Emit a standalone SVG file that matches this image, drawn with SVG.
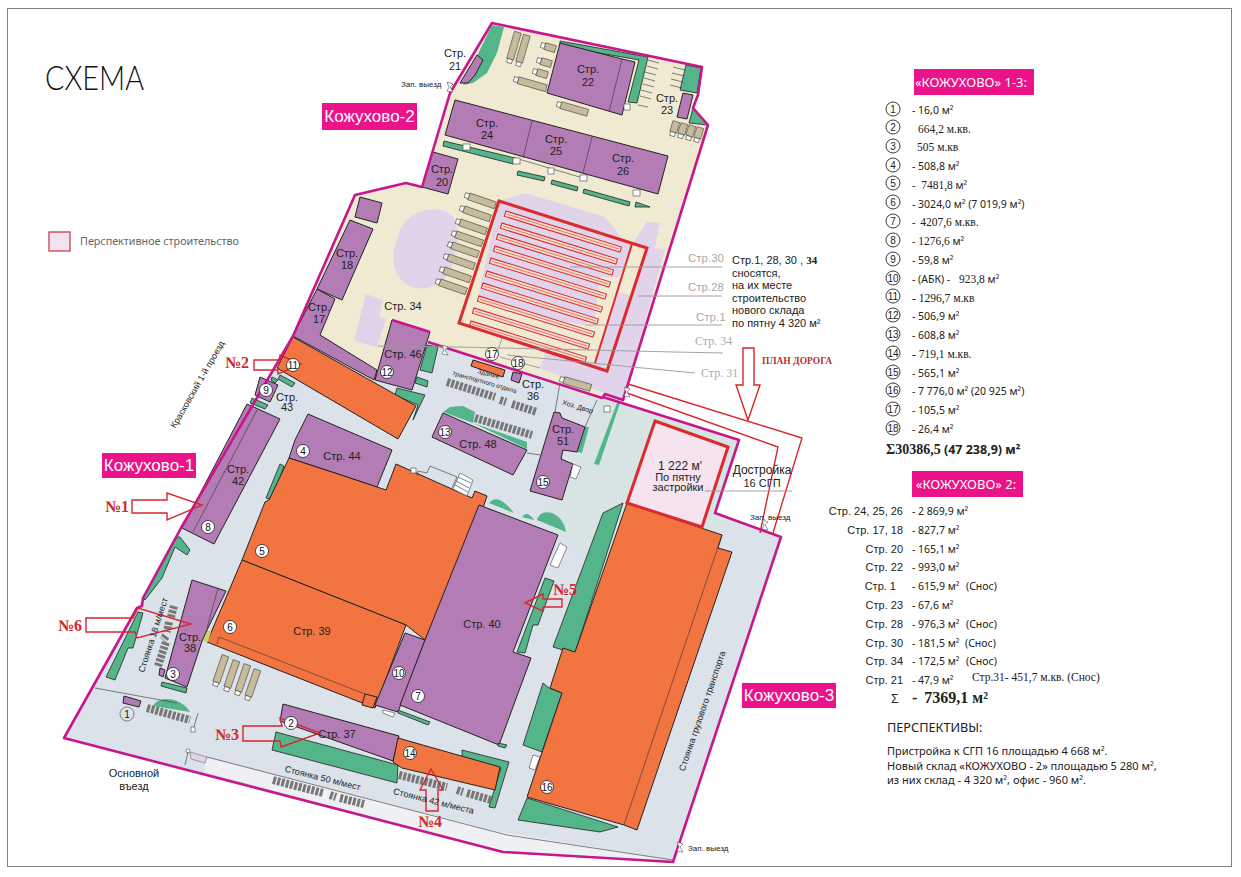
<svg xmlns="http://www.w3.org/2000/svg" width="1241" height="877" viewBox="0 0 1241 877">
<style>
text{font-family:"Liberation Sans",Arial,sans-serif;font-size:11px;fill:#222}
.p{fill:#b47cb5;stroke:#222;stroke-width:1}
.o{fill:#f27440;stroke:#222;stroke-width:1}
.g{fill:#54b58a;stroke:#222;stroke-width:.8}
.gn{fill:#54b58a}
.t{fill:#c8bb9c;stroke:#444;stroke-width:.6}
.w{fill:#fff;stroke:#444;stroke-width:.6}
.no{fill:none;stroke:#333;stroke-width:.6}
.li{fill:#e1d4ea}
.m{fill:none;stroke:#c8168c;stroke-width:2.6;stroke-linejoin:round}
.r{fill:none;stroke:#d9262c;stroke-width:1.4}
.lead{fill:none;stroke:#999;stroke-width:.9}
.pk{fill:none;stroke:#777;stroke-width:8;stroke-dasharray:3 1.4}
.pb{fill:#ec1289}
.pl{fill:#fff;font-size:17px;text-anchor:middle}
.c{text-anchor:middle}
.s{font-size:9px}
.ns{fill:#fff;stroke:#222;stroke-width:.8}
.nt{font-size:10px;text-anchor:middle;fill:#111}
.lc{fill:none;stroke:#222;stroke-width:.9}
.lt{font-size:10px;text-anchor:middle;fill:#222}
.v{font-family:"Noto Sans","Open Sans",sans-serif;font-size:10.5px;fill:#222}
.sf{font-family:"Liberation Serif","Times New Roman",serif;font-size:11.5px;fill:#222}
.gr{fill:#aaa;font-size:11.5px}
.grs{fill:#aaa;font-size:12px;font-family:"Liberation Serif",serif}
.no1{font-family:"Liberation Serif",serif;font-weight:bold;font-size:16px;fill:#cf2a2d}
.bar{fill:#f6dccb;stroke:#d9262c;stroke-width:1}
.para{font-family:"Noto Sans",sans-serif;font-size:11px}
.hd{fill:#fff;font-family:"Noto Sans",sans-serif;font-size:13px;text-anchor:middle}
</style>
<defs>
<g id="tk"><rect x="4" y="-3.5" width="28" height="7" class="t"/><rect x="0" y="-2.5" width="4" height="5" class="w"/></g>
<g id="tks"><rect x="4" y="-3.5" width="11" height="7" class="t"/><rect x="0" y="-2.5" width="4" height="5" class="w"/></g>
<g id="bar"><rect x="0" y="0" width="121" height="5.5" class="bar"/><line x1="2" y1="2.7" x2="119" y2="2.7" stroke="#d9262c" stroke-width=".5"/></g>
<path id="gate" d="M-3-5L3-3L0 0L3 5L-3 4L-1 0Z" fill="#fff" stroke="#555" stroke-width=".6"/>
</defs>
<rect width="1241" height="877" fill="#fff"/>
<rect x="7.5" y="8.5" width="1224" height="858" fill="none" stroke="#808080" stroke-width="1"/>

<g id="zones">
<polygon points="492,23 702,67 698,95 693,108 708,125 623,400 603,395 602,398 428,342 430,332 392,320 375,381 293,336 355,195 406,183 422,187 450,93" fill="#f1ead2"/>
<polygon points="293,336 375,381 428,342 603,397 739,440 715,513 781,537 673,862 503,852 64,738 137,608 143,598 181,528" fill="#dce2ea"/>
<polygon points="604,398 739,440 715,513 728,520 700,540 623,503 590,560 540,520 575,450 596,400" fill="#d8e4e3"/>
<polygon points="205,757 500,832 673,860 503,852 205,772" fill="#eef0f3"/>
</g>

<g id="lilac-areas">
<path class="li" d="M397,240C402,214 425,205 445,211C458,216 462,232 453,262C450,280 432,291 415,288C397,284 388,262 397,240Z"/>
<polygon class="li" points="366,294 383,300 379,317 386,319 377,347 354,341"/>
<polygon class="li" points="499,201 525,193 605,217 622,238 632,244"/>
<polygon class="li" points="632,244 647,222 660,223 655,248 665,249 623,400 602,392 540,368 547,350 595,363"/>
<polygon points="459,323 499,201 632,244 595,363" fill="#f1ead2"/>
<polygon class="li" points="499,201 632,244 620,277 600,277 595,317 583,325 515,313 478,297"/>
<polygon class="li" points="540,368 547,350 590,362 595,363 607,371 602,392"/>
<polygon points="632,244 647,248 632,296 618,292" fill="#f1ead2"/>
</g>

<g id="str-22"><polygon class="g" points="560,41 648,57 637,103 628,102 639,60 560,46"/><polygon class="p" points="560,43 622,59 635,62 622,115 547,93"/><line class="no" x1="622" y1="59" x2="609" y2="112" stroke-width="1"/><text class="c" x="588" y="73">Стр.</text><text class="c" x="588" y="86">22</text></g>
<g id="str-21"><path class="gn" d="M492,25L504,27L497,53L487,73L473,83L463,85Z"/><polygon class="p" points="477,55 483,60 475,75 468,83 460,83" stroke="none"/><text class="c" x="455" y="57">Стр.</text><text class="c" x="455" y="70">21</text></g>
<g id="str-23"><polygon class="g" points="686,65 701,68 697,93 680,90"/><polygon class="g" points="693,108 708,125 689,123"/><polygon class="p" points="683,93 693,95 687,119 677,117"/><text class="c" x="667" y="102">Стр.</text><text class="c" x="667" y="114">23</text></g>
<g id="trucks">
<use href="#tk" transform="translate(509,63) rotate(-74)"/><use href="#tk" transform="translate(518,66) rotate(-74)"/>
<use href="#tks" transform="translate(541,45) rotate(16)"/><use href="#tks" transform="translate(537,60) rotate(16)"/><use href="#tks" transform="translate(533,71) rotate(16)"/>
<use href="#tk" transform="translate(514,79) rotate(16) scale(1.05,1)"/><use href="#tk" transform="translate(557,104) rotate(16)"/>
<use href="#tks" transform="translate(672,136) rotate(-73)"/><use href="#tks" transform="translate(680,138) rotate(-73)"/><use href="#tks" transform="translate(688,140) rotate(-73)"/><use href="#tks" transform="translate(696,142) rotate(-73)"/>
<use href="#tk" transform="translate(465,195) rotate(19)"/><use href="#tk" transform="translate(460,208) rotate(19)"/><use href="#tk" transform="translate(456,221) rotate(19)"/><use href="#tk" transform="translate(452,233) rotate(19)"/><use href="#tk" transform="translate(448,244) rotate(19)"/><use href="#tk" transform="translate(444,256) rotate(19)"/><use href="#tk" transform="translate(440,269) rotate(19)"/><use href="#tk" transform="translate(436,281) rotate(19)"/>
<use href="#tk" transform="translate(560,379) rotate(16)"/>
<use href="#tk" transform="translate(215,686) rotate(-71)"/><use href="#tk" transform="translate(226,691) rotate(-71)"/><use href="#tk" transform="translate(237,695) rotate(-71)"/><use href="#tk" transform="translate(247,700) rotate(-71)"/>
<path class="no" d="M648,60L659,63M647,66L658,69M645,72L656,75M644,78L655,81M643,84L654,87M641,90L652,93M640,96L651,99M638,105L648,107M673,67L685,70M672,73L684,76M671,79L683,82M670,85L682,88"/>
</g>
<g id="str-24-26"><polygon class="g" points="444,141 515,158 513,164 443,146"/><polygon class="p" points="455,100 668,156 658,194 445,135"/><path class="no" d="M532,121L523,158M592,137L583,173M515,158L583,178"/>
<polygon class="g" points="518,171 545,177 544,181 517,175"/><polygon class="g" points="552,180 578,187 577,191 551,184"/><polygon class="g" points="584,189 630,202 629,206 583,193"/><polygon class="g" points="636,202 650,207 635,207"/>
<rect class="w" x="463" y="144" width="7" height="6"/><rect class="w" x="513" y="158" width="7" height="6"/><rect class="w" x="548" y="168" width="6" height="6"/><rect class="w" x="580" y="175" width="7" height="6"/><rect class="w" x="633" y="190" width="7" height="6"/><rect class="w" x="624" y="104" width="6" height="6"/>
<text class="c" x="487" y="127">Стр.</text><text class="c" x="487" y="139">24</text><text class="c" x="556" y="143">Стр.</text><text class="c" x="556" y="155">25</text><text class="c" x="623" y="162">Стр.</text><text class="c" x="623" y="175">26</text></g>
<g id="str-20"><polygon class="p" points="433,152 458,159 448,194 422,187"/><text class="c" x="442" y="173">Стр.</text><text class="c" x="442" y="186">20</text></g>
<g id="str-18"><polygon class="p" points="360,197 382,203 377,223 355,217"/><polygon class="p" points="350,220 373,229 342,300 317,289"/><text class="c" x="347" y="257">Стр.</text><text class="c" x="347" y="269">18</text></g>
<g id="str-17"><polygon class="p" points="317,289 335,299 320,335 377,370 374,380 293,336"/><text class="c" x="319" y="311">Стр.</text><text class="c" x="319" y="323">17</text></g>
<g id="str-34"><text class="c" x="403" y="310">Стр. 34</text></g>

<g id="new-warehouse">
<use href="#bar" transform="translate(506,211) rotate(17.3)"/><use href="#bar" transform="translate(502,223) rotate(17.3)"/><use href="#bar" transform="translate(498,234) rotate(17.3)"/><use href="#bar" transform="translate(495,246) rotate(17.3)"/><use href="#bar" transform="translate(491,258) rotate(17.3)"/><use href="#bar" transform="translate(487,271) rotate(17.3)"/><use href="#bar" transform="translate(483,283) rotate(17.3)"/><use href="#bar" transform="translate(479,296) rotate(17.3)"/><use href="#bar" transform="translate(474,308) rotate(17.3)"/><use href="#bar" transform="translate(471,321) rotate(17.3)"/>
<polygon points="499,201 647,248 607,371 459,323" fill="none" stroke="#dd2a2e" stroke-width="3"/><line x1="632" y1="244" x2="595" y2="363" stroke="#dd2a2e" stroke-width="2"/>
</g>

<g id="str-46"><polygon class="g" points="427,345 438,347 432,373 420,370"/><polygon class="g" points="417,377 428,381 427,387 415,383"/><polygon class="g" points="397,388 425,395 413,420 418,405 395,395"/><polygon class="p" points="392,320 430,332 412,390 375,380"/><text class="c" x="403" y="358">Стр. 46</text></g>
<g id="str-11"><polygon class="o" points="293,337 416,406 398,439 277,368" stroke-width="1.2"/></g>
<g id="str-43"><polygon class="g" points="280,375 295,383 292,387 278,379"/><polygon class="g" points="272,377 278,380 275,383 271,380"/><polygon class="p" points="260,377 278,385 270,402 255,395" stroke-width=".6"/><polygon class="g" points="252,398 268,405 265,409 250,403"/><text class="c" x="287" y="401">Стр.</text><text class="c" x="287" y="411">43</text></g>
<g id="str-42"><polygon class="p" points="247,404 280,419 214,544 182,528"/><line class="no" x1="257" y1="410" x2="193" y2="532"/><text class="c" x="238" y="473">Стр.</text><text class="c" x="238" y="485">42</text></g>
<g id="str-44"><polygon class="g" points="280,464 284,466 272,500 266,498"/><polygon class="p" points="308,414 392,450 377,487 338,474 289,458 295,440"/><text class="c" x="342" y="460">Стр. 44</text></g>
<g id="str-5"><polygon class="o" points="289,458 338,474 386,490 396,464 472,498 475,491 487,496 484,505 425,640 406,625 242,560 265,502 269,500"/>
<rect class="w" x="411" y="468" width="5" height="5"/><polyline class="no" points="417,476 418,471 427,473 430,466 457,477 452,488"/><polygon class="w" points="460,473 473,480 467,496 453,489"/><path class="no" d="M458,477L471,483M456,481L469,488M455,485L468,492"/></g>
<g id="str-39"><polygon class="o" points="242,560 406,625 375,708 207,642"/><polyline class="no" points="217,644 219,637 365,694"/><polygon class="o" points="362,705 365,694 377,697 373,708"/><polygon fill="#cfd36c" points="206,629 211,632 208,642 202,641"/><text class="c" x="312" y="635">Стр. 39</text></g>
<g id="str-38"><polygon class="p" points="160,668 165,670 163,677 159,675" stroke-width=".5"/><polygon class="p" points="192,580 226,591 207,630 202,641 187,687 165,678"/><line class="no" x1="218" y1="588" x2="207" y2="628"/><polygon class="g" points="162,682 187,688 186,693 161,686"/><text class="c" x="190" y="641">Стр.</text><text class="c" x="190" y="652">38</text></g>
<g id="str-10"><polygon class="p" points="405,633 425,640 398,712 375,705"/></g>
<g id="str-40"><path class="gn" d="M489,503Q498,492 514,513ZM522,517Q527,510 534,520ZM537,520Q540,510 552,513Q564,518 566,532Z"/>
<polygon class="p" points="479,505 558,535 513,652 531,658 499,745 400,705 425,640"/><polygon class="g" points="545,578 554,581 538,625 533,625 525,653 517,652"/><polygon class="w" points="560,543 567,547 558,568 550,565"/><polygon class="g" points="398,710 430,722 428,725 398,713"/><polygon class="g" points="498,743 507,745 505,748 498,746"/><polygon class="w" points="383,710 395,713 393,717 383,713"/><text class="c" x="482" y="628">Стр. 40</text></g>
<g id="str-16"><polygon class="g" points="623,503 603,513 553,647 563,650 575,653"/><polygon class="g" points="549,688 562,693 542,752 523,745 543,683"/><polygon class="g" points="527,798 618,827 600,832 518,820"/><polygon class="w" points="533,755 540,757 535,770 529,768"/><polygon class="o" points="627,503 722,535 718,548 732,552 637,830 624,825 527,797 562,693 550,688 563,648 575,652"/><line class="no" stroke-width="1" x1="722" y1="535" x2="624" y2="825"/></g>
<g id="extension-16"><polygon points="655,421 728,447 702,527 627,503" fill="#f5e4ef" stroke="#dd2a2e" stroke-width="3"/><text class="c" x="680" y="470" style="font-size:12px">1 222 м'</text><text class="c" x="678" y="481">По пятну</text><text class="c" x="678" y="491">застройки</text></g>
<g id="str-37"><polygon class="g" points="276,732 398,765 397,783 272,750"/><polygon class="p" points="283,704 399,736 393,761 280,721"/><text class="c" x="337" y="738">Стр. 37</text></g>
<g id="str-14"><polygon class="g" points="462,750 509,762 495,808 489,807 501,768 462,757"/><polygon class="o" points="398,738 500,767 495,790 402,768 393,762" stroke="none"/></g>
<g id="str-48"><path class="gn" d="M443,412L450,407L463,406L475,412L473,423Z"/><polygon class="gn" points="473,423 527,442 527,449"/><polygon class="p" points="443,413 527,450 513,475 432,437"/><line class="no" x1="527" y1="453" x2="540" y2="455"/><text class="c" x="478" y="448">Стр. 48</text></g>
<g id="str-51"><polygon class="gn" points="585,427 589,427 582,453 577,452"/><polygon class="p" points="554,412 560,413 562,418 585,427 577,452 563,450 561,459 573,464 562,500 530,491"/><polygon class="w" points="573,464 581,467 576,479 570,477"/><path class="no" d="M560,383L555,412M597,400L585,427"/><text class="c" x="563" y="433">Стр.</text><text class="c" x="563" y="445">51</text></g>
<g id="str-36"><polygon class="o" points="473,360 505,370 503,377 471,366"/><polygon class="p" points="513,372 522,374 519,383 511,380" stroke-width=".6"/><text class="c" x="533" y="388">Стр.</text><text class="c" x="533" y="400">36</text><text class="c" style="font-size:6.5px" transform="translate(488,376) rotate(16)">Здание</text><text class="c" style="font-size:6.5px" transform="translate(484,384) rotate(16)">транспортного отдела</text></g>
<g id="hoz"><polygon class="gn" points="617,403 620,403 599,465 594,464"/><rect class="w" x="604" y="406" width="6" height="6"/><text class="c" style="font-size:7px" transform="translate(577,409) rotate(17)">Хоз. Двор</text></g>
<g id="str-1"><polygon class="p" points="124,696 141,701 139,707 123,703" stroke-width=".5"/><path class="gn" d="M153,706C158,696 180,696 190,712Z"/></g>
<g id="left-green"><polygon class="g" points="177,537 180,537 190,550 187,555 175,547 162,578 145,600 143,597"/><polygon class="g" points="138,612 143,613 133,648 128,648 115,680 106,677"/></g>
<g id="entrance"><polygon class="li" points="190,752 207,757 205,763 191,759" stroke="#555" stroke-width=".5"/><circle cx="188" cy="751" r="2" class="w"/><line class="no" x1="185" y1="765" x2="188" y2="752"/><path class="no" d="M95,688L177,703M207,757L507,835L673,860M198,713L193,730"/><rect class="w" x="191" y="727" width="4" height="5"/></g>
<g id="parking">
<path class="pk" d="M147,708L190,720M273,780L323,793M330,795L336,797M340,798L364,804M399,775L447,787M457,790L463,792M467,793L491,800M447,382L495,397M500,400L506,402M512,404L537,412M475,418L532,435M158,666L166,642M174,606L171,617M169,622L167,632M166,636L163,640"/>
</g>

<g id="plan-road"><path class="r" d="M628,384L802,438L773,533M627,393L778,447L760,533"/></g>
<g id="boundary"><path class="m" d="M603,397L739,440L715,513L781,537L673,862L503,852L64,738L137,608L142,606L143,598L181,528L293,336L355,195L406,183L422,187L450,93L492,23L702,67L698,95L693,108L708,125L623,400L605,394L602,398L428,342M392,320L430,332"/></g>

<g id="connectors">
<path class="lead" d="M570,267H722M638,296H722M585,325H722M378,346L458,347L675,352L723,353M507,355L612,365L695,373M502,338L497,353M500,357L540,368M705,491H792"/>
<path class="r" d="M132,500H167V493L202,505L167,520V513H132Z"/>
<path class="r" d="M254,360H280V355L301,364L278,374V370H254Z"/>
<path class="r" d="M243,726H282L280,718L320,733L281,747L280,741H243Z"/>
<path class="r" d="M426,811V790H420L431,769L443,790H438V811Z"/>
<path class="r" d="M562,599H543V594L525,603L543,611V607H562Z"/>
<path class="r" d="M86,618H133L138,608L191,624L137,638L135,632H86Z"/>
<path class="r" d="M743,348H754V385H760L748,420L736,385H743Z"/>
</g>

<g id="markers">
<g id="n1"><circle cx="127" cy="714" r="7" fill="#dce2ea" stroke="#555" stroke-width=".7"/><text class="nt" x="127" y="718">1</text></g>
<g id="n2"><circle class="ns" cx="291" cy="723" r="6.5"/><text class="nt" x="291" y="727">2</text></g>
<g id="n3"><circle class="ns" cx="173" cy="674" r="6.5"/><text class="nt" x="173" y="678">3</text></g>
<g id="n4"><circle class="ns" cx="303" cy="451" r="6.5"/><text class="nt" x="303" y="455">4</text></g>
<g id="n5"><circle class="ns" cx="262" cy="551" r="6.5"/><text class="nt" x="262" y="555">5</text></g>
<g id="n6"><circle class="ns" cx="230" cy="627" r="6.5"/><text class="nt" x="230" y="631">6</text></g>
<g id="n7"><circle class="ns" cx="418" cy="696" r="6.5"/><text class="nt" x="418" y="700">7</text></g>
<g id="n8"><circle class="ns" cx="208" cy="527" r="6.5"/><text class="nt" x="208" y="531">8</text></g>
<g id="n9"><circle class="ns" cx="266" cy="390" r="6.5"/><text class="nt" x="266" y="394">9</text></g>
<g id="n10"><circle class="ns" cx="399" cy="673" r="6.5"/><text class="nt" x="399" y="677">10</text></g>
<g id="n11"><circle class="ns" cx="293" cy="365" r="6.5"/><text class="nt" x="293" y="369">11</text></g>
<g id="n12"><circle class="ns" cx="387" cy="372" r="6.5"/><text class="nt" x="387" y="376">12</text></g>
<g id="n13"><circle class="ns" cx="445" cy="432" r="6.5"/><text class="nt" x="445" y="436">13</text></g>
<g id="n14"><circle class="ns" cx="410" cy="753" r="6.5"/><text class="nt" x="410" y="757">14</text></g>
<g id="n15"><circle class="ns" cx="543" cy="482" r="6.5"/><text class="nt" x="543" y="486">15</text></g>
<g id="n16"><circle class="ns" cx="547" cy="787" r="6.5"/><text class="nt" x="547" y="791">16</text></g>
<g id="n17"><circle class="ns" cx="492" cy="354" r="6.5"/><text class="nt" x="492" y="358">17</text></g>
<g id="n18"><circle class="ns" cx="518" cy="363" r="6.5"/><text class="nt" x="518" y="367">18</text></g>
</g>

<g id="gates"><use href="#gate" x="450" y="87"/><use href="#gate" x="627" y="392"/><use href="#gate" x="765" y="525"/><use href="#gate" x="680" y="847"/><use href="#gate" x="445" y="350"/></g>

<g id="map-labels">
<text x="401" y="87" style="font-size:8px">Зап. выезд</text><text x="750" y="520" style="font-size:8px">Зап. выезд</text><text x="688" y="851" style="font-size:8px">Зап. выезд</text>
<text class="c" x="134" y="777">Основной</text><text class="c" x="134" y="790">въезд</text>
<text class="c s" transform="translate(200,386) rotate(-60)">Красковский 1-й проезд</text>
<text class="c s" transform="translate(156,636) rotate(-72)">Стоянка 18 м/мест</text>
<text class="c s" transform="translate(322,781) rotate(14)">Стоянка 50 м/мест</text>
<text class="c s" transform="translate(433,804) rotate(14)">Стоянка 42 м/места</text>
<text class="c s" transform="translate(705,712) rotate(-71)">Стоянка грузового транспорта</text>
<text class="c" x="762" y="474" style="font-size:12px">Достройка</text><text class="c" x="762" y="487">16 СГП</text>
<text class="gr" x="688" y="262">Стр.30</text><text class="gr" x="688" y="291">Стр.28</text><text class="gr" x="696" y="321">Стр.1</text>
<text class="grs" x="695" y="345">Стр. 34</text><text class="grs" x="701" y="377">Стр. 31</text>
<text x="732" y="264">Стр.1, 28, 30 , <tspan font-family="Liberation Serif" font-weight="bold">34</tspan></text><text x="732" y="277">сносятся,</text><text x="732" y="289">на их месте</text><text x="732" y="302">строительство</text><text x="732" y="314">нового склада</text><text x="732" y="327">по пятну 4 320 м²</text>
<text x="762" y="364" style="font-family:'Liberation Serif',serif;font-weight:bold;font-size:9.5px;fill:#b5322f">ПЛАН ДОРОГА</text>
<text class="no1" x="105" y="512">№1</text><text class="no1" x="225" y="368">№2</text><text class="no1" x="215" y="740">№3</text><text class="no1" x="418" y="827">№4</text><text class="no1" x="553" y="595">№5</text><text class="no1" x="58" y="631">№6</text>
<rect class="pb" x="322" y="103" width="95" height="27"/><text class="pl" x="369.500" y="122">Кожухово-2</text>
<rect class="pb" x="102" y="453" width="94" height="25"/><text class="pl" x="149" y="471">Кожухово-1</text>
<rect class="pb" x="742" y="683" width="94" height="25"/><text class="pl" x="789" y="701">Кожухово-3</text>
</g>

<g id="title"><text x="45" y="90" textLength="99" lengthAdjust="spacingAndGlyphs" style="font-family:Lato,'Open Sans',sans-serif;font-weight:300;font-size:33px;fill:#111">СХЕМА</text></g>
<g id="legend"><rect x="49" y="232" width="21" height="19" fill="#f1e4f1" stroke="#c8404a" stroke-width="1.3"/><text x="80" y="245" textLength="159" style="fill:#666;font-family:'Noto Sans',sans-serif;font-size:10.8px">Перспективное строительство</text></g>

<g id="table-1">
<rect class="pb" x="914" y="69" width="120" height="26"/>
<text class="hd" x="971" y="87">«КОЖУХОВО» 1-3:</text>
<g id="table-1-markers">
<circle class="lc" cx="893" cy="109" r="7"/><text class="lt" x="893" y="112.500">1</text>
<circle class="lc" cx="893" cy="127" r="7"/><text class="lt" x="893" y="130.500">2</text>
<circle class="lc" cx="893" cy="146" r="7"/><text class="lt" x="893" y="149.500">3</text>
<circle class="lc" cx="893" cy="165" r="7"/><text class="lt" x="893" y="168.500">4</text>
<circle class="lc" cx="893" cy="183" r="7"/><text class="lt" x="893" y="186.500">5</text>
<circle class="lc" cx="893" cy="202" r="7"/><text class="lt" x="893" y="205.500">6</text>
<circle class="lc" cx="893" cy="221" r="7"/><text class="lt" x="893" y="224.500">7</text>
<circle class="lc" cx="893" cy="240" r="7"/><text class="lt" x="893" y="243.500">8</text>
<circle class="lc" cx="893" cy="259" r="7"/><text class="lt" x="893" y="262.500">9</text>
<circle class="lc" cx="893" cy="278" r="7"/><text class="lt" x="893" y="281.500">10</text>
<circle class="lc" cx="893" cy="296" r="7"/><text class="lt" x="893" y="299.500">11</text>
<circle class="lc" cx="893" cy="315" r="7"/><text class="lt" x="893" y="318.500">12</text>
<circle class="lc" cx="893" cy="334" r="7"/><text class="lt" x="893" y="337.500">13</text>
<circle class="lc" cx="893" cy="353" r="7"/><text class="lt" x="893" y="356.500">14</text>
<circle class="lc" cx="893" cy="372" r="7"/><text class="lt" x="893" y="375.500">15</text>
<circle class="lc" cx="893" cy="390" r="7"/><text class="lt" x="893" y="393.500">16</text>
<circle class="lc" cx="893" cy="409" r="7"/><text class="lt" x="893" y="412.500">17</text>
<circle class="lc" cx="893" cy="428" r="7"/><text class="lt" x="893" y="431.500">18</text>
</g>
<text class="v" x="912" y="114">- 16,0 м²</text>
<text class="sf" x="918" y="133">664,2 м.кв.</text>
<text class="sf" x="917" y="151">505 м.кв</text>
<text class="v" x="912" y="170">- 508,8 м²</text>
<text class="v" x="912" y="189">- <tspan class="sf" dx="3">7481,8</tspan> м²</text>
<text class="v" x="912" y="208">- 3024,0 м² (7 019,9 м²)</text>
<text class="v" x="912" y="226">- <tspan class="sf" dx="2">4207,6 м.кв.</tspan></text>
<text class="v" x="912" y="245">- <tspan class="sf">1276,6</tspan> м²</text>
<text class="v" x="912" y="264">- 59,8 м²</text>
<text class="v" x="912" y="283">- (АБК) - <tspan class="sf" dx="6">923,8</tspan> м²</text>
<text class="sf" x="912" y="302">- 1296,7 м.кв</text>
<text class="v" x="912" y="320">- 506,9 м²</text>
<text class="v" x="912" y="339">- 608,8 м²</text>
<text class="sf" x="912" y="358">- 719,1 м.кв.</text>
<text class="v" x="912" y="377">- 565,1 м²</text>
<text class="v" x="912" y="395">- 7 776,0 м² (20 925 м²)</text>
<text class="v" x="912" y="414">- 105,5 м²</text>
<text class="v" x="912" y="433">- 26,4 м²</text>
<text x="886" y="454" style="font-family:'Noto Sans',sans-serif;font-weight:bold;font-size:12.5px"><tspan style="font-family:'Liberation Serif',serif;font-size:14px">Σ30386,5</tspan> (47 238,9) м²</text>
</g>

<g id="table-2">
<rect class="pb" x="912" y="471" width="111" height="26"/>
<text class="hd" x="966" y="489">«КОЖУХОВО» 2:</text>
<g text-anchor="end">
<text x="903" y="515">Стр. 24, 25, 26</text><text x="903" y="534">Стр. 17, 18</text><text x="903" y="553">Стр. 20</text><text x="903" y="571">Стр. 22</text><text x="896" y="590">Стр. 1</text><text x="903" y="609">Стр. 23</text><text x="903" y="628">Стр. 28</text><text x="903" y="647">Стр. 30</text><text x="903" y="665">Стр. 34</text><text x="903" y="684">Стр. 21</text>
</g>
<text class="v" x="912" y="515">- 2 869,9 м²</text>
<text class="v" x="912" y="534">- 827,7 м²</text>
<text class="v" x="912" y="553">- 165,1 м²</text>
<text class="v" x="912" y="571">- 993,0 м²</text>
<text class="v" x="912" y="590">- 615,9 м² <tspan x="966">(Снос)</tspan></text>
<text class="v" x="912" y="609">- 67,6 м²</text>
<text class="v" x="912" y="628">- 976,3 м² <tspan x="966">(Снос)</tspan></text>
<text class="v" x="912" y="647">- 181,5 м² <tspan x="965">(Снос)</tspan></text>
<text class="v" x="912" y="665">- 172,5 м² <tspan x="966">(Снос)</tspan></text>
<text class="v" x="912" y="684">- 47,9 м²</text>
<text class="sf" x="972" y="681">Стр.31- 451,7 м.кв. (Снос)</text>
<text x="891" y="703" style="font-size:12px">Σ</text>
<text x="912" y="703" style="font-family:'Liberation Serif',serif;font-weight:bold;font-size:16px">- <tspan dx="3">7369,1 м²</tspan></text>
<text x="887" y="732" style="font-family:'Noto Sans',sans-serif;font-size:12.7px">ПЕРСПЕКТИВЫ:</text>
<text class="para" x="887" y="755">Пристройка к СГП 16 площадью 4 668 м².</text>
<text class="para" x="887" y="770">Новый склад «КОЖУХОВО - 2» площадью 5 280 м²,</text>
<text class="para" x="887" y="784">из них склад - 4 320 м², офис - 960 м².</text>
</g>
</svg>
